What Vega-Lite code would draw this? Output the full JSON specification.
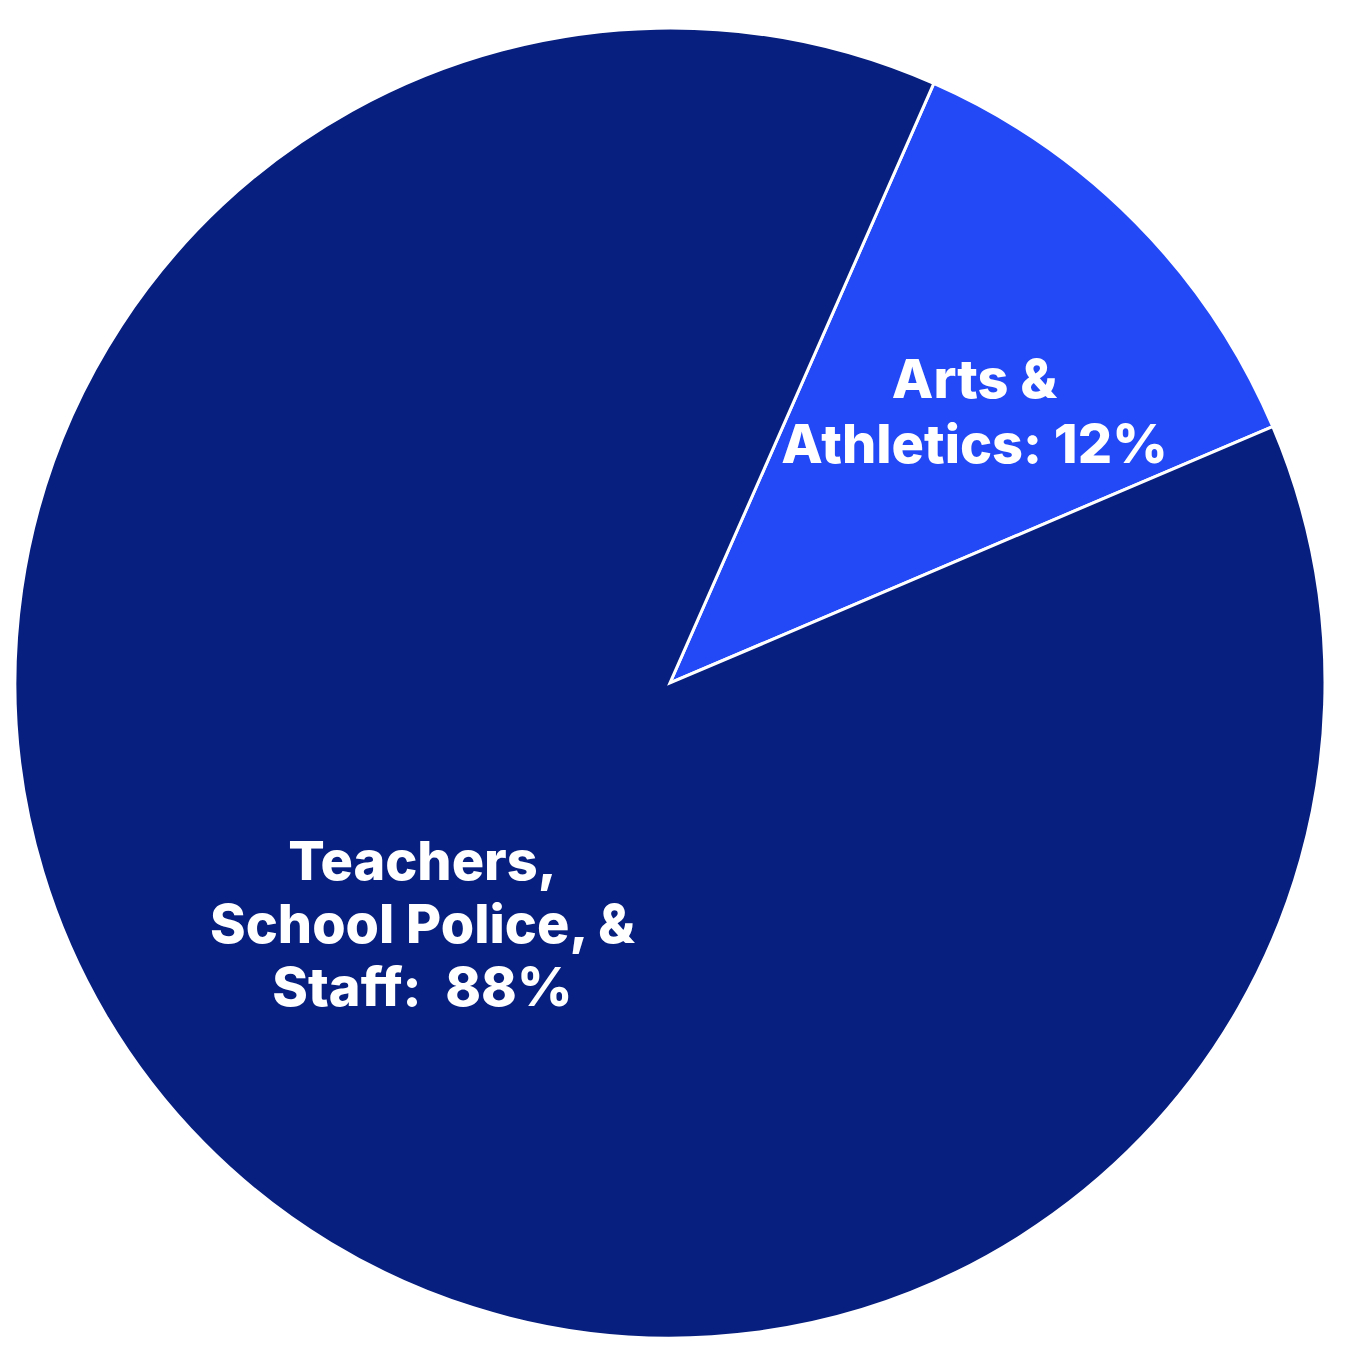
{
  "$schema": "https://vega.github.io/schema/vega-lite/v6.json",
  "width": 1358,
  "height": 1358,
  "autosize": {"type": "fit", "contains": "padding"},
  "padding": {"left": 15, "right": 33, "top": 28, "bottom": 20},
  "background": "#ffffff",
  "view": {"stroke": null},
  "data": {
    "values": [
      {"category": "Arts & Athletics", "share": 12, "label": "Arts &\nAthletics: 12%"},
      {"category": "Teachers, School Police, & Staff", "share": 88, "label": "Teachers,\nSchool Police, &\nStaff:\u00a0 88%"}
    ]
  },
  "encoding": {
    "theta": {
      "field": "share",
      "type": "quantitative",
      "stack": true,
      "scale": {"range": [0.4145, 6.6977]}
    },
    "color": {
      "field": "category",
      "type": "nominal",
      "scale": {
        "domain": ["Arts & Athletics", "Teachers, School Police, & Staff"],
        "range": ["#2249F5", "#071F7E"]
      },
      "legend": null
    }
  },
  "layer": [
    {
      "mark": {"type": "arc", "stroke": "#ffffff", "strokeWidth": 3, "outerRadius": 655}
    },
    {
      "mark": {
        "type": "text",
        "radius": 428,
        "font": "Inter",
        "fontWeight": 800,
        "fontSize": 54,
        "lineHeight": 65,
        "lineBreak": "\n",
        "align": "center",
        "baseline": "middle",
        "fill": "#ffffff"
      },
      "encoding": {
        "text": {
          "condition": {"test": "datum.category === 'Arts & Athletics'", "field": "label"},
          "value": ""
        },
        "color": {"value": "#ffffff"}
      }
    },
    {
      "mark": {
        "type": "text",
        "radius": 348,
        "dy": -64,
        "font": "Inter",
        "fontWeight": 800,
        "fontSize": 54,
        "lineHeight": 63,
        "lineBreak": "\n",
        "align": "center",
        "baseline": "middle",
        "fill": "#ffffff"
      },
      "encoding": {
        "text": {
          "condition": {"test": "datum.category !== 'Arts & Athletics'", "field": "label"},
          "value": ""
        },
        "color": {"value": "#ffffff"}
      }
    }
  ]
}
